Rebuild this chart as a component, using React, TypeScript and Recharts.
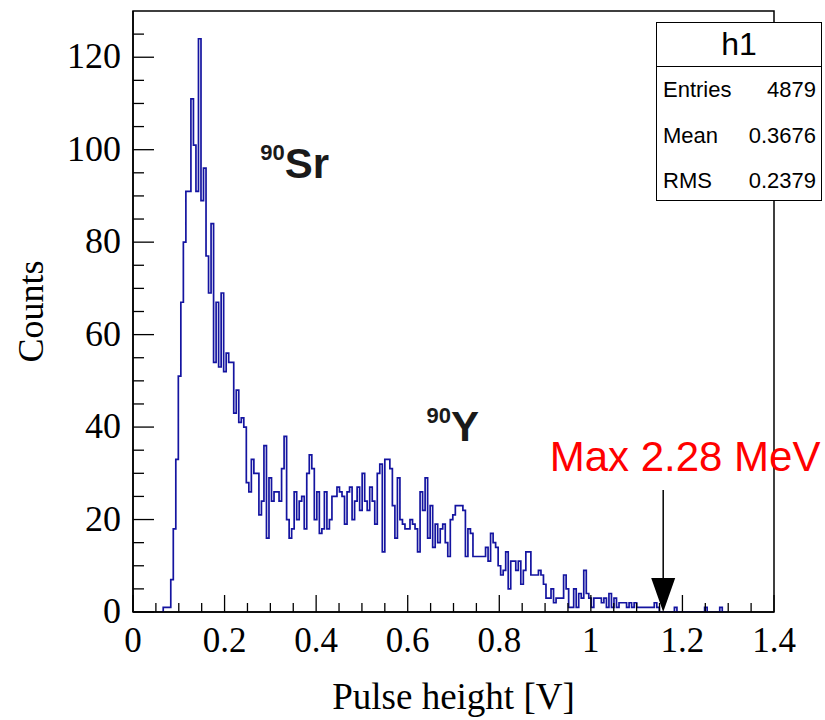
import React from 'react';
import {
  ComposedChart,
  Line,
  XAxis,
  YAxis,
  ReferenceArea,
  ReferenceDot,
  ReferenceLine,
} from 'recharts';

// ---- data -------------------------------------------------------------
const binWidth = 0.0055; // V per bin
const firstBin = 11; // index of the first listed bin

// counts per bin, starting at bin index `firstBin`
const counts = [
  0, 1, 1, 1,
  7, 18, 33, 51, 67, 80, 91, 91, 111, 101, 91, 124, 89, 96, 77, 69, 84, 54, 67, 53, 69, 52, 56, 54, 54, 43, 48, 41, 42, 40, 28,
  26, 33, 30, 30, 21, 24, 36, 16, 29, 24, 26, 26, 24, 31, 38, 20, 16, 18, 26, 20, 24, 25, 18, 30, 34, 31, 20, 26, 17, 18,
  26, 18, 20, 25, 25, 27, 26, 25, 19, 26, 27, 20, 24, 27, 22, 30, 24, 22, 27, 24, 19, 30, 32, 13, 33, 33, 31, 23, 16, 29,
  20, 19, 18, 18, 20, 19, 18, 13, 26, 22, 29, 16, 23, 14, 19, 15, 18, 19, 15, 12, 20, 21, 23, 23, 23, 22, 12, 18, 17, 12,
  12, 12, 12, 12, 14, 11, 17, 15, 14, 10, 8, 9, 13, 5, 11, 11, 9, 11, 6, 9, 13, 13, 8, 8, 8, 9, 8, 6, 3, 3,
  5, 2, 3, 3, 3, 8, 5, 1, 1, 5, 1, 4, 3, 9, 4, 3, 1, 3, 3, 3, 2, 3, 1, 4, 1, 3, 1, 2, 2, 2,
  1, 2, 1, 2, 1, 1, 1, 1, 1, 1, 1, 2, 1, 0, 0, 0, 0, 0, 0, 1, 0, 0, 0, 0, 0, 0, 0, 0, 0, 0,
  0, 1, 0, 0, 0, 0, 0, 1, 0, 0,
];

const xMajorTicks = [0, 0.2, 0.4, 0.6, 0.8, 1.0, 1.2, 1.4];
const xMajorLabels = ['0', '0.2', '0.4', '0.6', '0.8', '1', '1.2', '1.4'];
const xMinorTicks = [
  0.05, 0.1, 0.15, 0.25, 0.3, 0.35, 0.45, 0.5, 0.55, 0.65, 0.7, 0.75,
  0.85, 0.9, 0.95, 1.05, 1.1, 1.15, 1.25, 1.3, 1.35,
];
const yMajorTicks = [0, 20, 40, 60, 80, 100, 120];
const yMajorLabels = ['0', '20', '40', '60', '80', '100', '120'];
const yMinorTicks = [
  5, 10, 15, 25, 30, 35, 45, 50, 55, 65, 70, 75, 85, 90, 95, 105, 110, 115, 125,
];

const xDomain = [0, 1.4];
const yDomain = [0, 130];

const statsTitle = 'h1';
const statsNames = ['Entries', 'Mean', 'RMS'];
const statsValues = ['4879', '0.3676', '0.2379'];

// annotation anchors in data coordinates
const srLabel = { v: 0.278, n: 93.8, mass: '90', sym: 'Sr' };
const yLabel = { v: 0.641, n: 37.0, mass: '90', sym: 'Y' };
const maxLabel = { v: 0.91, n: 30.4, text: 'Max 2.28 MeV' };
const arrow = { v: 1.158, top: 26.4, base: 7.2, tip: 0 };

// ---- derived table ----------------------------------------------------
const data = counts.map((c, i) => ({ v: (firstBin + i) * binWidth, n: c }));
data.push({ v: (firstBin + counts.length) * binWidth, n: 0 });

const xTicks = [...xMajorTicks, ...xMinorTicks].sort((a, b) => a - b);
const yTicks = [...yMajorTicks, ...yMinorTicks].sort((a, b) => a - b);

const SERIF = '"Liberation Serif", "DejaVu Serif", serif';
const SANS = '"Liberation Sans", Arial, sans-serif';

const XTick = (props: any) => {
  const { x, y, payload } = props;
  const v = payload.value as number;
  const idx = xMajorTicks.findIndex((t) => Math.abs(t - v) < 1e-6);
  const major = idx >= 0;
  return (
    <g>
      <line x1={x} y1={y} x2={x} y2={y - (major ? 17 : 9)} stroke="#000" strokeWidth={1.3} />
      {major && (
        <text x={x} y={y + 40} textAnchor="middle" fontFamily={SERIF} fontSize={35} fill="#000">
          {xMajorLabels[idx]}
        </text>
      )}
    </g>
  );
};

const YTick = (props: any) => {
  const { x, y, payload } = props;
  const v = payload.value as number;
  const idx = yMajorTicks.findIndex((t) => Math.abs(t - v) < 1e-6);
  const major = idx >= 0;
  return (
    <g>
      <line x1={x} y1={y} x2={x + (major ? 21 : 11)} y2={y} stroke="#000" strokeWidth={1.3} />
      {major && (
        <text x={x - 12} y={y + 11} textAnchor="end" fontFamily={SERIF} fontSize={36} fill="#000">
          {yMajorLabels[idx]}
        </text>
      )}
    </g>
  );
};

const isotope = (mass: string, sym: string) => (p: any) => (
  <text x={p.cx} y={p.cy} fontFamily={SANS} fontWeight="bold" fill="#1a1a1a">
    <tspan fontSize={22} dy={-18}>{mass}</tspan>
    <tspan fontSize={42} dy={18}>{sym}</tspan>
  </text>
);

const maxText = (p: any) => (
  <text x={p.cx} y={p.cy} fontFamily={SANS} fontSize={42} fill="#ff0000">
    {maxLabel.text}
  </text>
);

const arrowHead = (p: any) => {
  const { cx, cy } = p;
  return <polygon points={`${cx - 12},${cy - 34} ${cx + 12},${cy - 34} ${cx},${cy}`} fill="#000" />;
};

export default function App() {
  return (
    <div style={{ position: 'absolute', left: 0, top: 0, width: 825, height: 720, background: '#fff' }}>
      <ComposedChart
        width={825}
        height={720}
        data={data}
        margin={{ top: 11, right: 51, bottom: 0, left: 0 }}
      >
        <XAxis
          dataKey="v"
          type="number"
          domain={xDomain}
          ticks={xTicks}
          interval={0}
          tickSize={0}
          tickMargin={0}
          tick={<XTick />}
          height={108}
          allowDataOverflow
          axisLine={{ stroke: '#000', strokeWidth: 1.5 }}
          tickLine={false}
          label={{
            content: (lp: any) => {
              const vb = lp.viewBox;
              return (
                <text
                  x={vb.x + vb.width / 2}
                  y={709}
                  textAnchor="middle"
                  fontFamily={SERIF}
                  fontSize={37}
                  fill="#000"
                >
                  Pulse height [V]
                </text>
              );
            },
          }}
        />
        <YAxis
          type="number"
          domain={yDomain}
          ticks={yTicks}
          interval={0}
          tickSize={0}
          tickMargin={0}
          tick={<YTick />}
          width={133}
          allowDataOverflow
          axisLine={{ stroke: '#000', strokeWidth: 1.5 }}
          tickLine={false}
          label={{
            content: (lp: any) => {
              const vb = lp.viewBox;
              const cy = vb.y + vb.height / 2;
              return (
                <text
                  x={43}
                  y={cy}
                  transform={`rotate(-90 43 ${cy})`}
                  textAnchor="middle"
                  fontFamily={SERIF}
                  fontSize={36}
                  fill="#000"
                >
                  Counts
                </text>
              );
            },
          }}
        />
        <ReferenceArea
          x1={xDomain[0]}
          x2={xDomain[1]}
          y1={yDomain[0]}
          y2={yDomain[1]}
          fill="none"
          fillOpacity={0}
          stroke="#000"
          strokeWidth={1.5}
          ifOverflow="visible"
        />
        <Line
          type="stepAfter"
          dataKey="n"
          stroke="#1414a0"
          strokeWidth={1.7}
          dot={false}
          activeDot={false}
          isAnimationActive={false}
        />
        <ReferenceDot x={srLabel.v} y={srLabel.n} r={0} ifOverflow="visible" shape={isotope(srLabel.mass, srLabel.sym)} />
        <ReferenceDot x={yLabel.v} y={yLabel.n} r={0} ifOverflow="visible" shape={isotope(yLabel.mass, yLabel.sym)} />
        <ReferenceDot x={maxLabel.v} y={maxLabel.n} r={0} ifOverflow="visible" shape={maxText} />
        <ReferenceLine
          segment={[
            { x: arrow.v, y: arrow.top },
            { x: arrow.v, y: arrow.base },
          ]}
          stroke="#000"
          strokeWidth={1.5}
          ifOverflow="visible"
        />
        <ReferenceDot x={arrow.v} y={arrow.tip} r={0} ifOverflow="visible" shape={arrowHead} />
      </ComposedChart>
      <div
        style={{
          position: 'absolute',
          left: 656,
          top: 22,
          width: 166,
          height: 179,
          boxSizing: 'border-box',
          border: '1.5px solid #000',
          background: '#fff',
          fontFamily: SANS,
          color: '#000',
        }}
      >
        <div
          style={{
            height: 43,
            borderBottom: '1.5px solid #000',
            textAlign: 'center',
            fontSize: 32,
            lineHeight: '43px',
          }}
        >
          {statsTitle}
        </div>
        {statsNames.map((name, i) => (
          <div
            key={name}
            style={{
              position: 'absolute',
              left: 6,
              right: 5,
              top: 53 + i * 45.5,
              height: 28,
              display: 'flex',
              justifyContent: 'space-between',
              fontSize: 22,
              lineHeight: '28px',
            }}
          >
            <span>{name}</span>
            <span>{statsValues[i]}</span>
          </div>
        ))}
      </div>
    </div>
  );
}
